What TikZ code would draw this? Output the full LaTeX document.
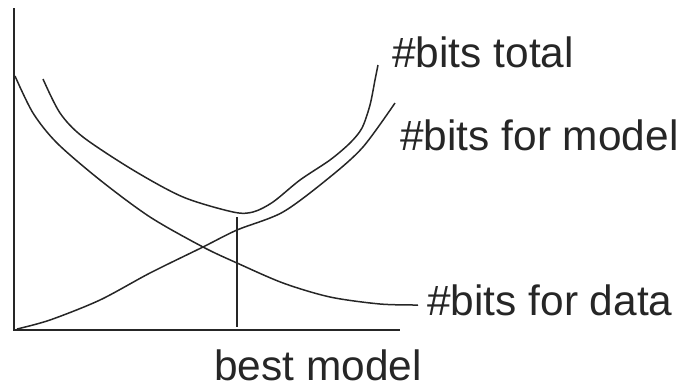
\documentclass[tikz,border=0pt]{standalone}
\usepackage{fontspec}
\setmainfont{Liberation Sans}
\usetikzlibrary{positioning}

\tikzset{
  curve/.style={line width=0.75pt, black!85},
  axis/.style={line width=1pt, black!85},
  lbl/.style={inner sep=0pt, anchor=base west, font=\fontsize{21.2}{25}\selectfont, text=black!85}
}

\begin{document}
\begin{tikzpicture}[x=0.5pt, y=-0.5pt]
    \useasboundingbox (0,0) rectangle (677,387);

    % Axes
    \coordinate (origin) at (14,330);
    \draw[axis] (14,8) -- (origin) -- (400,330);

    % Labels
    \node[lbl] (totallbl) at (392,67) {\#bits total};
    \node[lbl] (modellbl) at (400,150) {\#bits for model};
    \node[lbl] (datalbl) at (427,315) {\#bits for data};
    \node[lbl] (bestlbl) at (214,380) {best model};

    % Cost of the data given the model
    \draw[curve] plot[smooth] coordinates {(15,76) (33,113) (57,143) (100,180) (150,217) (203,247)
        (237,263) (283,283) (330,297) (380,304) (418,305)};

    % Cost of the model
    \draw[curve] plot[smooth] coordinates {(17,329) (50,320) (100,300) (150,273) (203,247)
        (237,230) (283,212) (330,177) (363,147) (395,103)};

    % Total
    \draw[curve] plot[smooth] coordinates {(43,79) (60,113) (83,137) (133,170) (183,197)
        (233,212) (253,212) (273,202) (300,180) (330,160) (350,143) (362,128) (370,105)
        (375,80) (378,65)};

    % Minimum of the total
    \coordinate (best) at (237,217);
    \draw[curve] (best) -- (237,327);
\end{tikzpicture}
\end{document}
